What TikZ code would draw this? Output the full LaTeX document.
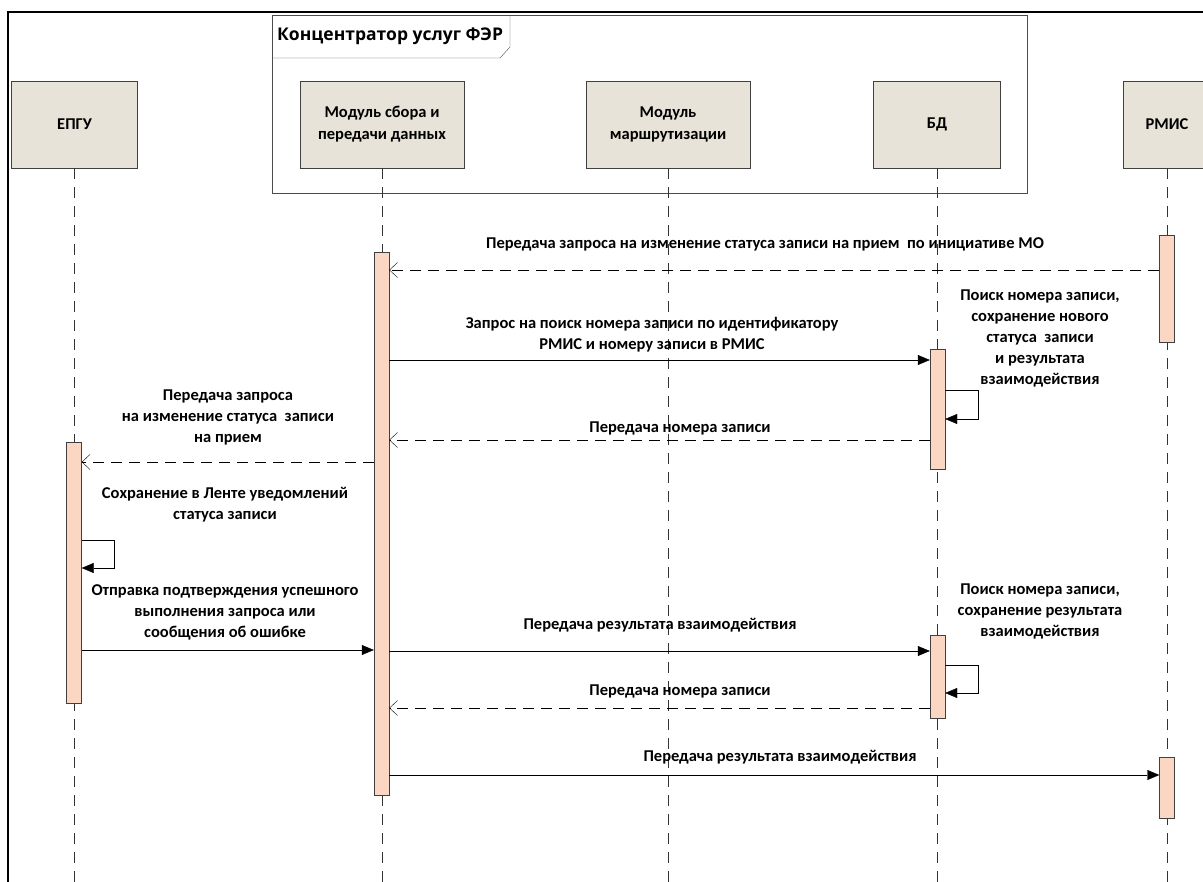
\documentclass[tikz,border=0pt]{standalone}
\usepackage{fontspec}
\setmainfont{Carlito}
\newfontfamily\tabfont{Open Sans}
\usetikzlibrary{arrows.meta}
\definecolor{headfill}{RGB}{232,227,217}
\definecolor{barfill}{RGB}{251,214,194}
\tikzset{
  head/.style={draw=black!75,fill=headfill,minimum height=87pt,align=center,inner sep=2pt,font=\fontsize{16.5}{22}\selectfont\bfseries},
  bar/.style={draw=black!75,fill=barfill,minimum width=15pt,inner sep=0pt},
  life/.style={black!80,dash pattern=on 11pt off 8pt},
  msg/.style={-{Triangle[length=12pt,width=10pt]}},
  ret/.style={dash pattern=on 11pt off 7pt,-{Straight Barb[length=8pt,width=15pt]}},
  lbl/.style={align=center,inner sep=0pt,font=\fontsize{16.5}{21}\selectfont\bfseries}
}
\begin{document}
\begin{tikzpicture}[x=1pt,y=-1pt]
    \clip (0,0) rectangle (1203,882);
    \fill[white] (0,0) rectangle (1203,882);
    \draw[line width=1.3pt] (8,900)--(8,12)--(1220,12);
    \draw[black!70] (272,15) rectangle (1027,193);
    \draw[black!70] (272,58)--(500,58)--(510,47)--(510,15);
    \node[lbl,anchor=west,font=\tabfont\fontsize{17.5}{22}\selectfont\bfseries] (hub) at (277,36) {Концентратор услуг ФЭР};
    \node[head,minimum width=126pt] (epgu) at (74.5,124.5) {ЕПГУ};
    \node[head,minimum width=164pt] (sbor) at (382,124.5) {Модуль сбора и\\передачи данных};
    \node[head,minimum width=164pt] (route) at (668,124.5) {Модуль\\маршрутизации};
    \node[head,minimum width=127pt] (bd) at (937,124.5) {БД};
    \node[head,minimum width=88pt] (rmis) at (1167,124.5) {РМИС};
    \foreach \h in {epgu,sbor,route,bd,rmis}
        \draw[life] (\h.south)--(\h.south |- 0,890);
    \node[bar,minimum height=543pt] (sb) at (381.5,523.5) {};
    \node[bar,minimum height=107pt] (rm1) at (1167,288.5) {};
    \node[bar,minimum height=61pt] (rm2) at (1167,787.5) {};
    \node[bar,minimum height=120pt] (bd1) at (937.5,409) {};
    \node[bar,minimum height=83pt] (bd2) at (937.5,676.5) {};
    \node[bar,minimum height=261pt] (ep) at (74,572.5) {};
    \draw[ret] (rm1.west |- 0,270)--(sb.east |- 0,270);
    \node[lbl] (t1) at (765,244) {Передача запроса на изменение статуса записи на прием \ по инициативе МО};
    \draw[msg] (sb.east |- 0,360)--(bd1.west |- 0,360);
    \node[lbl] (t2) at (652,335) {Запрос на поиск номера записи по идентификатору\\РМИС и номеру записи в РМИС};
    \draw[msg] (bd1.east |- 0,390)--(978,390)--(978,419)--(bd1.east |- 0,419);
    \node[lbl] (t3) at (1040,338) {Поиск номера записи,\\сохранение нового\\статуса \ записи\\и результата\\взаимодействия};
    \draw[ret] (bd1.west |- 0,440)--(sb.east |- 0,440);
    \node[lbl] (t4) at (680,428) {Передача номера записи};
    \draw[ret] (sb.west |- 0,462)--(ep.east |- 0,462);
    \node[lbl] (t5) at (228,417) {Передача запроса\\на изменение статуса \ записи\\на прием};
    \node[lbl] (t6) at (225,505) {Сохранение в Ленте уведомлений\\статуса записи};
    \draw[msg] (ep.east |- 0,540)--(114,540)--(114,568)--(ep.east |- 0,568);
    \node[lbl] (t7) at (225,612) {Отправка подтверждения успешного\\выполнения запроса или\\сообщения об ошибке};
    \draw[msg] (ep.east |- 0,650)--(sb.west |- 0,650);
    \draw[msg] (sb.east |- 0,651)--(bd2.west |- 0,651);
    \node[lbl] (t8) at (660,625) {Передача результата взаимодействия};
    \node[lbl] (t9) at (1040,611) {Поиск номера записи,\\сохранение результата\\взаимодействия};
    \draw[msg] (bd2.east |- 0,665)--(978,665)--(978,693)--(bd2.east |- 0,693);
    \draw[ret] (bd2.west |- 0,708)--(sb.east |- 0,708);
    \node[lbl] (t10) at (680,691) {Передача номера записи};
    \draw[msg] (sb.east |- 0,775)--(rm2.west |- 0,775);
    \node[lbl] (t11) at (780,757) {Передача результата взаимодействия};
\end{tikzpicture}
\end{document}
